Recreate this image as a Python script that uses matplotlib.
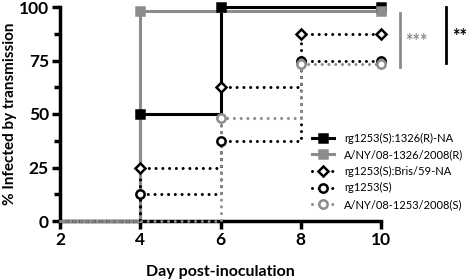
import matplotlib
matplotlib.use("Agg")
import matplotlib.pyplot as plt
from matplotlib.ticker import MultipleLocator

plt.rcParams['font.family'] = ['Lato', 'DejaVu Sans']
plt.rcParams['font.weight'] = 'bold'

# data: day post-inoculation vs % infected (step plots)
days = [2, 4, 6, 8, 10]
labels = ['rg1253(S):1326(R)-NA', 'A/NY/08-1326/2008(R)', 'rg1253(S):Bris/59-NA',
          'rg1253(S)', 'A/NY/08-1253/2008(S)']
r1326_na = [0, 50, 100, 100, 100]
ny1326 = [0, 98, 98, 98, 98]
bris59_na = [0, 25, 62.5, 87.5, 87.5]
rg1253 = [0, 12.5, 37.5, 75, 75]
ny1253 = [0, 0, 48, 73.5, 73.5]

fig = plt.figure(figsize=(4.72, 2.8), dpi=100)
ax = fig.add_axes([60/472, 59/280, 321/472, 214/280])

gray = '#8c8c8c'
dots = (0, (0.01, 2.2))
styles = [
    (r1326_na, 'k', '-', 's', 'k', [1, 2, 4]),
    (ny1326, gray, '-', 's', gray, [1, 4]),
    (bris59_na, 'k', dots, 'D', 'white', [1, 2, 3, 4]),
    (rg1253, 'k', dots, 'o', 'white', [1, 2, 3, 4]),
    (ny1253, gray, dots, 'o', 'white', [2, 3, 4]),
]
handles = []
for (vals, col, ls, mk, mfc, mkidx), lab in zip(styles, labels):
    ax.step(days, vals, where='post', color=col, ls=ls, lw=2.2, clip_on=False,
            zorder=3, dash_capstyle='round')
    xs = [days[i] for i in mkidx]
    ys = [vals[i] for i in mkidx]
    ms = 6 if mk != 'D' else 5.5
    ax.plot(xs, ys, ls='none', marker=mk, ms=ms, mfc=mfc, mec=col, mew=1.8,
            clip_on=False, zorder=4)
    h, = ax.plot([], [], color=col, ls=ls, lw=2.2, marker=mk, ms=ms, mfc=mfc,
                 mec=col, mew=1.8, dash_capstyle='round')
    handles.append(h)

ax.set_xlim(2, 10)
ax.set_ylim(0, 100)
ax.xaxis.set_major_locator(MultipleLocator(2))
ax.yaxis.set_major_locator(MultipleLocator(25))
ax.yaxis.set_minor_locator(MultipleLocator(12.5))
for s in ['top', 'right']:
    ax.spines[s].set_visible(False)
for s in ['left', 'bottom']:
    ax.spines[s].set_linewidth(2.5)
ax.tick_params(which='major', width=2.5, length=6, labelsize=12.5, pad=2)
ax.tick_params(which='minor', width=2.5, length=4)
for t in ax.get_xticklabels() + ax.get_yticklabels():
    t.set_fontweight('bold')

ax.set_xlabel('Day post-inoculation', fontsize=11.5, fontweight='bold', labelpad=12)
ax.set_ylabel('% Infected by transmission', fontsize=11, fontweight='bold', labelpad=1)

# significance bars
ax.plot([10.48, 10.48], [72, 97], color=gray, lw=2, clip_on=False)
ax.text(10.6, 84, '***', color=gray, fontsize=13, ha='left', va='center', clip_on=False)
ax.plot([11.62, 11.62], [74, 100], color='k', lw=2, clip_on=False)
ax.text(11.78, 86, '**', color='k', fontsize=13, ha='left', va='center', clip_on=False)

leg = ax.legend(handles, labels, loc='lower left', bbox_to_anchor=(0.765, 0.02),
                frameon=False, fontsize=8, handlelength=2.0, handletextpad=0.9,
                labelspacing=0.5, borderaxespad=0.2, prop={'size': 8, 'weight': 'normal'})

fig.savefig('out.png', dpi=100)
